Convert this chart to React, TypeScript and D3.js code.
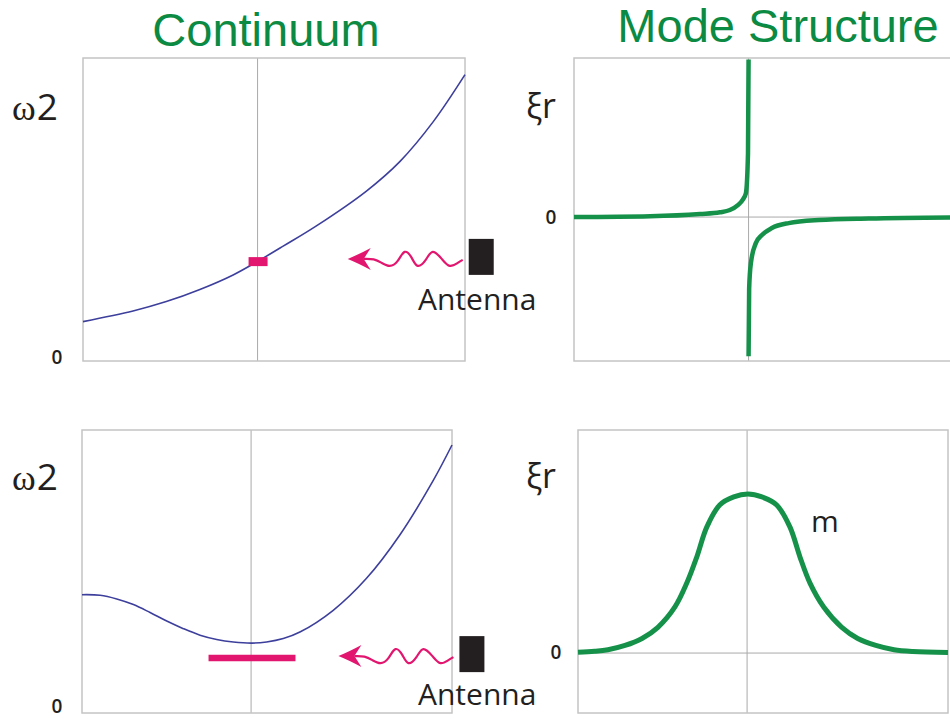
import React from "react";
import * as d3 from "d3";

// ---------- data ----------
const titles = ["Continuum", "Mode Structure"];
const resonance = 0.457; // radial position of the resonance (gridline)

// top-left: continuum omega^2(r), monotone
const tlR = [0, 0.131, 0.218, 0.306, 0.393, 0.456, 0.524, 0.611, 0.742, 0.83, 0.917, 1.0];
const tlW2 = [0.13, 0.165, 0.196, 0.236, 0.284, 0.328, 0.379, 0.446, 0.561, 0.659, 0.79, 0.945];
const tlMarker = { r: 0.457, w2: 0.328 };

// top-right: singular continuum mode xi_r(r)
const trLeftR = [0, 0.199, 0.33, 0.382, 0.408, 0.429, 0.442, 0.45, 0.4555, 0.457];
const trLeftXi = [0, 0.005, 0.019, 0.03, 0.044, 0.075, 0.11, 0.15, 0.4, 0.99];
const trRightR = [0.457, 0.4585, 0.463, 0.476, 0.492, 0.518, 0.562, 0.641, 0.772, 1.0];
const trRightXi = [-0.875, -0.45, -0.29, -0.164, -0.113, -0.069, -0.038, -0.019, -0.009, -0.002];

// bottom-left: continuum with a minimum
const blR = [0, 0.049, 0.094, 0.139, 0.184, 0.229, 0.274, 0.319, 0.364, 0.409, 0.459, 0.499, 0.544, 0.589, 0.679, 0.769, 0.859, 0.949, 1.0];
const blW2 = [0.418, 0.416, 0.403, 0.383, 0.355, 0.325, 0.298, 0.275, 0.26, 0.251, 0.247, 0.251, 0.263, 0.286, 0.363, 0.476, 0.629, 0.821, 0.947];
const blBand = { r0: 0.342, r1: 0.577, w2: 0.194 };

// bottom-right: global (discrete) mode
const brR = [0, 0.045, 0.081, 0.127, 0.173, 0.216, 0.262, 0.294, 0.321, 0.348, 0.383, 0.421, 0.459, 0.497, 0.537, 0.573, 0.6, 0.627, 0.664, 0.713, 0.756, 0.805, 0.854, 0.905, 1.0];
const brXi = [0.005, 0.011, 0.021, 0.048, 0.092, 0.162, 0.29, 0.44, 0.604, 0.792, 0.931, 0.982, 1.0, 0.982, 0.931, 0.792, 0.604, 0.44, 0.29, 0.162, 0.092, 0.048, 0.021, 0.01, 0.004];

const antennaR = 0.693; // arrow tip position (panel units)
const antennaW2Top = 0.337;
const antennaW2Bottom = 0.201;

// ---------- styling ----------
const GREEN_T = "#0b8a43";
const GREEN = "#15914a";
const BLUE = "#3d3f9c";
const PINK = "#e2166f";
const INK = "#231f20";
const BOX = "#c4c4c4";
const GRID = "#a9a9a9";

const zip = (a: number[], b: number[]) => a.map((v, i) => [v, b[i]] as [number, number]);

type Box = { x0: number; x1: number; y0: number; y1: number };

function Frame({ b, x, zeroY }: { b: Box; x: d3.ScaleLinear<number, number>; zeroY?: number }) {
  const gx = x(resonance);
  return (
    <g>
      <line x1={gx} x2={gx} y1={b.y0} y2={b.y1} stroke={GRID} strokeWidth={1} />
      {zeroY !== undefined && (
        <line x1={b.x0} x2={b.x1} y1={zeroY} y2={zeroY} stroke={GRID} strokeWidth={1} />
      )}
      <rect x={b.x0} y={b.y0} width={b.x1 - b.x0} height={b.y1 - b.y0} fill="none" stroke={BOX} strokeWidth={1.5} />
    </g>
  );
}

function Antenna({ tipX, y }: { tipX: number; y: number }) {
  const wavePts: [number, number][] = [
    [16, 0], [26, 0.5], [34, 4], [42, 7], [50, 2], [57, -7], [64, -1], [70, 7], [78, 1], [85, -7], [94, 0], [102, 7], [110, 4], [115, 1],
  ];
  const wave = d3.line<[number, number]>()
    .x((d) => tipX + d[0])
    .y((d) => y + d[1])
    .curve(d3.curveNatural)(wavePts) as string;
  const head = `M${tipX},${y} Q${tipX + 10},${y - 4} ${tipX + 23},${y - 11} L${tipX + 16},${y} L${tipX + 23},${y + 11} Q${tipX + 10},${y + 4} ${tipX},${y} Z`;
  return (
    <g>
      <path d={wave} fill="none" stroke={PINK} strokeWidth={2.2} />
      <path d={head} fill={PINK} />
      <rect x={tipX + 121} y={y - 20} width={25} height={36} fill={INK} />
    </g>
  );
}

export default function App() {
  const tl: Box = { x0: 83, x1: 465, y0: 58, y1: 361 };
  const tr: Box = { x0: 574, x1: 956, y0: 58, y1: 361 };
  const bl: Box = { x0: 82, x1: 452, y0: 430, y1: 713 };
  const br: Box = { x0: 578, x1: 948, y0: 430, y1: 713 };

  const xTL = d3.scaleLinear().domain([0, 1]).range([tl.x0, tl.x1]);
  const yTL = d3.scaleLinear().domain([0, 1]).range([tl.y1, tl.y0]);
  const xTR = d3.scaleLinear().domain([0, 1]).range([tr.x0, tr.x1]);
  const yTR = d3.scaleLinear().domain([-0.905, 1]).range([tr.y1, tr.y0]);
  const xBL = d3.scaleLinear().domain([0, 1]).range([bl.x0, bl.x1]);
  const yBL = d3.scaleLinear().domain([0, 1]).range([bl.y1, bl.y0]);
  const xBR = d3.scaleLinear().domain([0, 1]).range([br.x0, br.x1]);
  const yBR = d3.scaleLinear().domain([-0.377, 1.403]).range([br.y1, br.y0]);

  const mk = (x: d3.ScaleLinear<number, number>, y: d3.ScaleLinear<number, number>, c: d3.CurveFactory) =>
    d3.line<[number, number]>().x((d) => x(d[0])).y((d) => y(d[1])).curve(c);

  const smooth = d3.curveCatmullRom.alpha(0.5);
  const tlPath = mk(xTL, yTL, smooth)(zip(tlR, tlW2)) as string;
  const blPath = mk(xBL, yBL, smooth)(zip(blR, blW2)) as string;
  const trL = mk(xTR, yTR, d3.curveMonotoneX)(zip(trLeftR, trLeftXi)) as string;
  const trR = mk(xTR, yTR, d3.curveMonotoneX)(zip(trRightR, trRightXi)) as string;
  const brPath = mk(xBR, yBR, smooth)(zip(brR, brXi)) as string;

  const sans = "'Open Sans', 'Liberation Sans', sans-serif";
  const omegaLabel = (y: number) => (
    <text x={12} y={y} fill={INK}>
      <tspan fontFamily="'Liberation Serif', serif" fontSize={36}>ω</tspan>
      <tspan fontFamily={sans} fontSize={37} dx={1}>2</tspan>
    </text>
  );
  const xiLabel = (y: number) => (
    <text x={526} y={y} fill={INK} fontFamily={sans} fontSize={34}>ξr</text>
  );
  const zero = (x: number, y: number) => (
    <text x={x} y={y} fill={INK} fontFamily={sans} fontSize={19} fontWeight={600} textAnchor="middle">0</text>
  );

  return (
    <svg width={950} height={719} style={{ position: "absolute", left: 0, top: 0, background: "#fff" }}>
      <rect x={0} y={0} width={950} height={719} fill="#fff" />
      <text x={266} y={46} textAnchor="middle" fontFamily="'Liberation Sans', Arial, sans-serif" fontSize={47} fill={GREEN_T}>{titles[0]}</text>
      <text x={778} y={42} textAnchor="middle" fontFamily="'Liberation Sans', Arial, sans-serif" fontSize={47} fill={GREEN_T}>{titles[1]}</text>

      {/* top-left */}
      <Frame b={tl} x={xTL} />
      <path d={tlPath} fill="none" stroke={BLUE} strokeWidth={1.6} />
      <rect x={xTL(tlMarker.r) - 9} y={yTL(tlMarker.w2) - 4.5} width={19} height={9} fill={PINK} />
      <Antenna tipX={xTL(antennaR)} y={yTL(antennaW2Top)} />
      <text x={418} y={310} fill={INK} fontFamily={sans} fontSize={30} fontWeight={500}>Antenna</text>
      {omegaLabel(120)}
      {zero(57, 364)}

      {/* top-right */}
      <Frame b={tr} x={xTR} zeroY={yTR(0)} />
      <path d={trL} fill="none" stroke={GREEN} strokeWidth={4.5} />
      <path d={trR} fill="none" stroke={GREEN} strokeWidth={4.5} />
      {xiLabel(118)}
      {zero(551, 224)}

      {/* bottom-left */}
      <Frame b={bl} x={xBL} />
      <path d={blPath} fill="none" stroke={BLUE} strokeWidth={1.6} />
      <line x1={xBL(blBand.r0)} x2={xBL(blBand.r1)} y1={yBL(blBand.w2)} y2={yBL(blBand.w2)} stroke={PINK} strokeWidth={6.5} />
      <Antenna tipX={xBL(antennaR)} y={yBL(antennaW2Bottom)} />
      <text x={418} y={705} fill={INK} fontFamily={sans} fontSize={30} fontWeight={500}>Antenna</text>
      {omegaLabel(490)}
      {zero(57, 713)}

      {/* bottom-right */}
      <Frame b={br} x={xBR} zeroY={yBR(0)} />
      <path d={brPath} fill="none" stroke={GREEN} strokeWidth={5} />
      {xiLabel(488)}
      {zero(556, 659)}
      <text x={811} y={532} fill={INK} fontFamily={sans} fontSize={30} fontWeight={500}>m</text>
    </svg>
  );
}
